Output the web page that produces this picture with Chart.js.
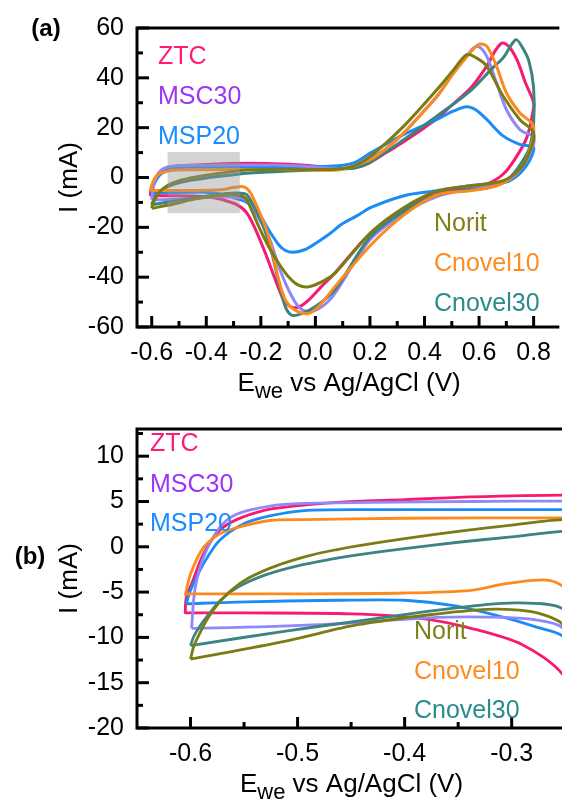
<!DOCTYPE html>
<html>
<head>
<meta charset="utf-8">
<script src="https://cdn.jsdelivr.net/npm/chart.js@4.4.0/dist/chart.umd.min.js"></script>
<style>
html, body { margin: 0; padding: 0; background: #fff; overflow: hidden; }
#wrapA { position: absolute; left: 0; top: 0; width: 562px; height: 400px; }
#wrapB { position: absolute; left: 0; top: 400px; width: 562px; height: 401px; }
</style>
</head>
<body>
<div id="wrapA"><canvas id="chartA" width="562" height="400"></canvas></div>
<div id="wrapB"><canvas id="chartB" width="562" height="401"></canvas></div>
<script>
// --- DATOS: E (V vs Ag/AgCl), I (mA) ---
const seriesNames = ['ZTC', 'MSC30', 'MSP20', 'Norit', 'Cnovel10', 'Cnovel30'];
const lineColors = ['#f71a70', '#8f88f8', '#1b8cf5', '#7c7c14', '#fd8a1c', '#3c8484'];
const textColors = ['#ff1a78', '#9b35f7', '#1a8cff', '#7f7f18', '#ff8c1f', '#2a8c8c'];
const drawOrder = [5, 3, 4, 0, 1, 2];

const ztc = [
  [-0.605,-7.4],[-0.604,-5.6],[-0.599,-4.1],[-0.588,-0.8],[-0.573,1.8],[-0.557,3.0],[-0.532,4.0],[-0.51,4.4],
  [-0.463,4.9],[-0.40,5.2],[-0.338,5.5],[-0.25,5.7],[-0.15,5.5],[-0.05,5.0],[0.05,4.0],[0.1,3.6],[0.15,4.0],
  [0.2,6.0],[0.26,10],[0.325,14.5],[0.4,20],[0.45,24],[0.5,29],[0.57,36],[0.63,45],[0.66,51],[0.685,54],
  [0.71,52.5],[0.74,47],[0.77,38],[0.8,30],
  [0.795,25],[0.775,16],[0.735,8],[0.69,1.5],[0.63,-2.5],[0.55,-4],[0.45,-6.5],[0.33,-12.5],[0.2,-22.5],
  [0.07,-38.5],[0.02,-44],[-0.025,-49.2],[-0.06,-51.9],[-0.09,-51.9],[-0.116,-49.2],[-0.147,-41],[-0.183,-30.5],
  [-0.219,-21],[-0.253,-14],[-0.29,-10.8],[-0.338,-9.0],[-0.385,-7.9],[-0.45,-7.4],[-0.55,-7.3],[-0.605,-7.3]
];
const msc30 = [
  [-0.599,-9.0],[-0.596,-4.8],[-0.588,-1.2],[-0.573,2.1],[-0.557,3.6],[-0.526,4.5],[-0.494,4.8],[-0.432,4.9],
  [-0.338,5.0],[-0.253,5.05],[-0.15,5.0],[-0.05,4.6],[0.05,3.8],[0.1,3.5],[0.15,4.5],[0.2,7.5],[0.264,12],
  [0.325,18],[0.4,27],[0.446,32.5],[0.507,42],[0.55,48],[0.58,52],[0.6,52.5],[0.628,48.7],[0.664,38],[0.7,27.3],
  [0.749,19.3],[0.785,17.3],[0.8,17],
  [0.798,12.7],[0.761,4.7],[0.713,-0.7],[0.64,-3.3],[0.55,-5],[0.45,-7.5],[0.33,-14],[0.2,-25],[0.071,-46.6],
  [0.023,-51.9],[-0.026,-53.9],[-0.062,-51.9],[-0.098,-45.2],[-0.134,-35.8],[-0.171,-23.8],[-0.219,-14.4],
  [-0.253,-8.9],[-0.276,-8.1],[-0.307,-7.8],[-0.369,-7.8],[-0.463,-8.5],[-0.557,-8.9],[-0.599,-9.0]
];
const msp20 = [
  [-0.604,-6.3],[-0.6,-4.8],[-0.588,-1.9],[-0.573,0.7],[-0.551,2.5],[-0.526,3.4],[-0.494,4.0],[-0.432,4.1],
  [-0.338,4.1],[-0.253,4.1],[-0.1,4.3],[0.0,4.3],[0.082,4.7],[0.143,6],[0.204,10],[0.325,17.3],[0.446,23.3],
  [0.507,26.7],[0.555,28.4],[0.59,27],[0.628,23.3],[0.688,16.7],[0.749,13.3],[0.8,12],
  [0.773,4.7],[0.713,-1.3],[0.65,-2.5],[0.567,-3.3],[0.446,-5.3],[0.325,-7.3],[0.204,-12],[0.15,-15.5],
  [0.1,-18.5],[0.05,-22.8],[0.0,-26.5],[-0.04,-29],[-0.08,-30],[-0.11,-29.3],[-0.134,-27.1],[-0.171,-21.1],
  [-0.207,-14.4],[-0.253,-9.8],[-0.276,-8.9],[-0.307,-7.8],[-0.354,-6.5],[-0.40,-5.9],[-0.463,-5.9],
  [-0.557,-6.1],[-0.604,-6.3]
];
const norit = [
  [-0.6,-12.4],[-0.597,-11],[-0.592,-9.7],[-0.585,-8.1],[-0.575,-6.4],[-0.562,-4.8],[-0.545,-3.4],[-0.52,-2.1],
  [-0.49,-1.0],[-0.463,-0.3],[-0.444,0.1],[-0.40,0.9],[-0.35,1.7],[-0.3,2.4],[-0.253,3.0],[-0.1,3.3],[0.0,3.2],
  [0.08,3.4],[0.143,4.7],[0.204,8.7],[0.325,20.7],[0.446,35.3],[0.507,43.3],[0.555,49.3],[0.59,48],[0.628,44.7],
  [0.688,32.7],[0.749,23.3],[0.8,18],
  [0.785,10],[0.749,3.3],[0.688,-1.3],[0.567,-3.3],[0.446,-5.5],[0.325,-12],[0.204,-22],[0.071,-38.5],
  [0.023,-41.9],[-0.026,-43.9],[-0.062,-43.2],[-0.098,-39.9],[-0.134,-34.5],[-0.171,-27.8],[-0.207,-19.8],
  [-0.24,-11.5],[-0.253,-8.5],[-0.273,-7.4],[-0.293,-7.0],[-0.323,-6.9],[-0.377,-7.5],[-0.444,-8.6],
  [-0.511,-10.4],[-0.6,-12.4]
];
const cnovel10 = [
  [-0.605,-5.4],[-0.6,-3.0],[-0.588,-0.1],[-0.573,1.4],[-0.557,2.1],[-0.526,2.9],[-0.494,3.0],[-0.40,3.15],
  [-0.253,3.2],[-0.1,3.2],[0.0,3.0],[0.08,3.0],[0.143,4.7],[0.204,7.3],[0.264,12],[0.325,18],[0.446,32.7],
  [0.507,42],[0.567,50],[0.6,53.5],[0.628,52.7],[0.664,44.7],[0.7,34],[0.749,26],[0.8,20.5],
  [0.773,7.3],[0.725,0.7],[0.664,-3.3],[0.567,-5.3],[0.446,-7],[0.325,-15],[0.204,-27],[0.071,-43.9],
  [0.011,-51.9],[-0.026,-54.6],[-0.074,-53.3],[-0.11,-49.2],[-0.134,-41.2],[-0.159,-29.2],[-0.183,-19.8],
  [-0.219,-10.4],[-0.237,-6.3],[-0.253,-4.3],[-0.265,-3.7],[-0.28,-3.7],[-0.307,-4.1],[-0.338,-4.8],
  [-0.40,-5.1],[-0.5,-5.2],[-0.605,-5.2]
];
const cnovel30 = [
  [-0.6,-10.9],[-0.597,-9.9],[-0.592,-8.9],[-0.584,-7.6],[-0.572,-5.9],[-0.555,-4.4],[-0.53,-3.1],[-0.5,-2.1],
  [-0.47,-1.4],[-0.444,-0.9],[-0.40,-0.2],[-0.35,0.5],[-0.3,1.1],[-0.253,1.7],[-0.1,2.6],[0.0,3.0],[0.08,3.3],
  [0.15,4.0],[0.2,6],[0.325,15.3],[0.446,24.7],[0.567,34.7],[0.65,44],[0.688,48],[0.735,55.3],[0.76,52],
  [0.783,46.6],[0.8,36],
  [0.8,22],[0.785,12],[0.759,6.5],[0.723,1.1],[0.687,-2.2],[0.626,-4.3],[0.55,-5],[0.446,-7],[0.325,-13.5],
  [0.2,-24],[0.071,-45.2],[-0.001,-51.9],[-0.05,-54.6],[-0.086,-55.3],[-0.11,-51.9],[-0.134,-42.5],
  [-0.159,-30.5],[-0.195,-18.4],[-0.231,-10.4],[-0.253,-6.8],[-0.293,-6.2],[-0.326,-6.4],[-0.377,-7.1],
  [-0.444,-8.2],[-0.511,-9.3],[-0.6,-10.9]
];
const allSeries = [ztc, msc30, msp20, norit, cnovel10, cnovel30];

// ejes
const xTicksA = [-0.6, -0.4, -0.2, 0.0, 0.2, 0.4, 0.6, 0.8];
const xMinorA = [-0.5, -0.3, -0.1, 0.1, 0.3, 0.5, 0.7];
const yTicksA = [-60, -40, -20, 0, 20, 40, 60];
const yMinorA = [-50, -30, -10, 10, 30, 50];
const xTicksB = [-0.6, -0.5, -0.4, -0.3];
const xMinorB = [-0.55, -0.45, -0.35];
const yTicksB = [-20, -15, -10, -5, 0, 5, 10];
const yMinorB = [-17.5, -12.5, -7.5, -2.5, 2.5, 7.5, 12.5];
// zona ampliada en (b)
const zoomBox = [-0.542, -0.277, 10.2, -14.3];

const FONT = '"Liberation Sans", Arial, sans-serif';

function buildSets(lw) {
  return allSeries.map((s, i) => ({
    label: seriesNames[i],
    data: s.map(p => ({ x: p[0], y: p[1] })),
    borderColor: lineColors[i],
    borderWidth: lw,
    showLine: true,
    pointRadius: 0,
    tension: 0.3,
    fill: false,
    order: drawOrder[i]
  }));
}

// marco, ticks hacia dentro, textos
const framePlugin = {
  id: 'frame',
  afterDatasetsDraw(chart, args, o) {
    const { ctx, chartArea: a, scales: { x, y } } = chart;
    ctx.save();
    if (o.box) {
      ctx.fillStyle = 'rgba(150,150,150,0.42)';
      const x0 = x.getPixelForValue(o.box[0]), x1 = x.getPixelForValue(o.box[1]);
      const y0 = y.getPixelForValue(o.box[2]), y1 = y.getPixelForValue(o.box[3]);
      ctx.fillRect(x0, y0, x1 - x0, y1 - y0);
    }
    ctx.strokeStyle = '#000';
    ctx.lineWidth = 3;
    ctx.beginPath();
    ctx.moveTo(a.right + 2, a.top);
    ctx.lineTo(a.left, a.top);
    ctx.lineTo(a.left, a.bottom);
    ctx.lineTo(a.right + 2, a.bottom);
    ctx.stroke();

    const tick = (vals, len, horiz) => {
      vals.forEach(v => {
        ctx.beginPath();
        if (horiz) {
          const px = x.getPixelForValue(v);
          if (px < a.left || px > a.right) return;
          ctx.moveTo(px, a.bottom);
          ctx.lineTo(px, a.bottom - len);
        } else {
          const py = y.getPixelForValue(v);
          if (py < a.top || py > a.bottom) return;
          ctx.moveTo(a.left, py);
          ctx.lineTo(a.left + len, py);
        }
        ctx.stroke();
      });
    };
    tick(x.ticks.map(t => t.value), 11, true);
    tick(o.xMinor, 6, true);
    tick(y.ticks.map(t => t.value), 12, false);
    tick(o.yMinor, 6, false);

    // etiquetas de las series
    ctx.font = '25px ' + FONT;
    ctx.textBaseline = 'middle';
    ctx.textAlign = 'left';
    o.labels.forEach((l, i) => {
      ctx.fillStyle = textColors[i];
      ctx.fillText(seriesNames[i], l[0], l[1]);
    });

    // titulo eje x con subindice
    ctx.fillStyle = '#000';
    const f1 = '26px ' + FONT, f2 = '22px ' + FONT;
    ctx.font = f1; const wE = ctx.measureText('E').width;
    const rest = ' vs Ag/AgCl (V)'; const wR = ctx.measureText(rest).width;
    ctx.font = f2; const wS = ctx.measureText('we').width;
    let tx = (a.left + a.right) / 2 + 2 - (wE + wS + wR) / 2;
    const ty = a.bottom + 57;
    ctx.font = f1; ctx.fillText('E', tx, ty); tx += wE;
    ctx.font = f2; ctx.fillText('we', tx, ty + 8); tx += wS;
    ctx.font = f1; ctx.fillText(rest, tx, ty);

    // titulo eje y
    ctx.save();
    ctx.translate(70, (a.top + a.bottom) / 2);
    ctx.rotate(-Math.PI / 2);
    ctx.textAlign = 'center';
    ctx.fillText('I (mA)', 0, 0);
    ctx.restore();

    // (a) / (b)
    ctx.font = 'bold 24px ' + FONT;
    ctx.textAlign = 'center';
    ctx.fillText(o.tag, o.tagPos[0], o.tagPos[1]);
    ctx.restore();
  }
};

function makeChart(id, cfg) {
  const tickFont = { family: FONT, size: 25 };
  return new Chart(document.getElementById(id), {
    type: 'scatter',
    data: { datasets: buildSets(cfg.lw) },
    options: {
      responsive: false,
      animation: false,
      devicePixelRatio: 1,
      layout: { padding: { top: cfg.top, right: 0, left: 0, bottom: 0 } },
      plugins: { legend: { display: false }, tooltip: { enabled: false }, frame: cfg.frame },
      scales: {
        x: {
          type: 'linear', min: cfg.xMin, max: cfg.xMax,
          afterBuildTicks: s => { s.ticks = cfg.xTicks.map(v => ({ value: v })); },
          afterFit: s => { s.height = 73; },
          grid: { display: false, drawTicks: false },
          border: { display: false },
          ticks: { font: tickFont, color: '#000', padding: 11, maxRotation: 0, autoSkip: false,
                   callback: v => (Math.abs(v) < 1e-9 ? 0 : v).toFixed(1) }
        },
        y: {
          type: 'linear', min: cfg.yMin, max: cfg.yMax,
          afterBuildTicks: s => { s.ticks = cfg.yTicks.map(v => ({ value: v })); },
          afterFit: s => { s.width = 137; },
          grid: { display: false, drawTicks: false },
          border: { display: false },
          ticks: { font: tickFont, color: '#000', padding: 13, autoSkip: false,
                   callback: v => String(v) }
        }
      }
    },
    plugins: [framePlugin]
  });
}

makeChart('chartA', {
  top: 28, xMin: -0.654, xMax: 0.887, yMin: -60, yMax: 60, lw: 3,
  xTicks: xTicksA, yTicks: yTicksA,
  frame: {
    box: zoomBox, xMinor: xMinorA, yMinor: yMinorA, tag: '(a)', tagPos: [46, 29],
    labels: [[158, 57], [158, 97], [158, 137], [434, 224], [434, 264], [434, 304]]
  }
});

makeChart('chartB', {
  top: 29, xMin: -0.65, xMax: -0.253, yMin: -20, yMax: 13, lw: 2.8,
  xTicks: xTicksB, yTicks: yTicksB,
  frame: {
    box: null, xMinor: xMinorB, yMinor: yMinorB, tag: '(b)', tagPos: [30, 157],
    labels: [[150, 44], [150, 85], [150, 124], [414, 232], [414, 272], [414, 311]]
  }
});
</script>
</body>
</html>
